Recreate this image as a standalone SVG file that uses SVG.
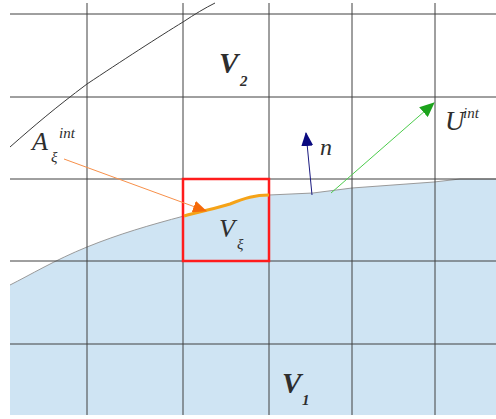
<svg xmlns="http://www.w3.org/2000/svg" width="496" height="419" viewBox="0 0 496 419">
<style>
.grid{stroke:#404040;stroke-width:1;fill:none}
.lbl{font-family:"Liberation Serif","DejaVu Serif",serif;font-style:italic;fill:#2e2e2e}
</style>
<defs>
<marker id="ao" markerWidth="14" markerHeight="12" refX="13" refY="6" orient="auto" markerUnits="userSpaceOnUse"><path d="M0,0 L14,6 L0,12 Z" fill="#f56a0a"/></marker>
<marker id="ab" markerWidth="14" markerHeight="12" refX="13" refY="6" orient="auto" markerUnits="userSpaceOnUse"><path d="M0,0 L14,6 L0,12 Z" fill="#0a0a80"/></marker>
<marker id="ag" markerWidth="15" markerHeight="13" refX="14" refY="6.5" orient="auto" markerUnits="userSpaceOnUse"><path d="M0,0 L15,6.5 L0,13 Z" fill="#1ca31c"/></marker>
</defs>
<rect width="496" height="419" fill="#fff"/>
<g id="domain">
<path d="M10,285 C30,275 55,260 87,247 S150,225 184,216 C200,211 215,209 230,204 C245,198 255,195 269,195 L313,193 L352,188 L434,182 L460,179 L496,179 L496,415 L10,415 Z" fill="#cfe4f3"/>
<path d="M10,285 C30,275 55,260 87,247 S150,225 184,216 M269,195 L313,193 L352,188 L434,182 L460,179 L496,179" fill="none" stroke="#9a9a9a" stroke-width="1"/>
</g>
<g id="grid">
<path class="grid" d="M10,14 H496 M10,97 H496 M10,179 H496 M10,261 H496 M10,344 H496 M87,3 V415 M183,3 V415 M269,3 V415 M352,3 V415 M435,3 V415"/>
</g>
<g id="curve">
<path d="M10,147 C35,125 55,108 87,84 C120,62 160,36 183,22 C195,14 205,8 215,3" fill="none" stroke="#3a3a3a" stroke-width="1"/>
</g>
<g id="cell">
<rect x="183" y="179" width="86" height="82" fill="none" stroke="#ff1c1c" stroke-width="2.5"/>
<path d="M184,216 C200,211 215,209 230,204 C245,198 255,195 269,195" fill="none" stroke="#f5a318" stroke-width="3"/>
</g>
<g id="connectors">
<line x1="64" y1="159" x2="206" y2="211" stroke="#f7904a" stroke-width="1" marker-end="url(#ao)"/>
<line x1="312" y1="195" x2="306" y2="133" stroke="#1a1a80" stroke-width="1" marker-end="url(#ab)"/>
<line x1="331" y1="193" x2="434" y2="103" stroke="#4ccc4c" stroke-width="1" marker-end="url(#ag)"/>
</g>
<g id="labels">
<text class="lbl" x="219" y="73" font-size="29" font-weight="bold">V</text>
<text class="lbl" x="240" y="86" font-size="15" font-weight="bold">2</text>
<text class="lbl" x="282" y="393" font-size="29" font-weight="bold">V</text>
<text class="lbl" x="302" y="405" font-size="15" font-weight="bold">1</text>
<text class="lbl" x="219" y="237" font-size="26">V</text>
<text class="lbl" x="237" y="249" font-size="15">ξ</text>
<text class="lbl" x="32" y="150" font-size="26">A</text>
<text class="lbl" x="51" y="162" font-size="15">ξ</text>
<text class="lbl" x="59" y="138" font-size="15">int</text>
<text class="lbl" x="320" y="155" font-size="24">n</text>
<text class="lbl" x="445" y="130" font-size="27">U</text>
<text class="lbl" x="463" y="118" font-size="15">int</text>
</g>
</svg>
